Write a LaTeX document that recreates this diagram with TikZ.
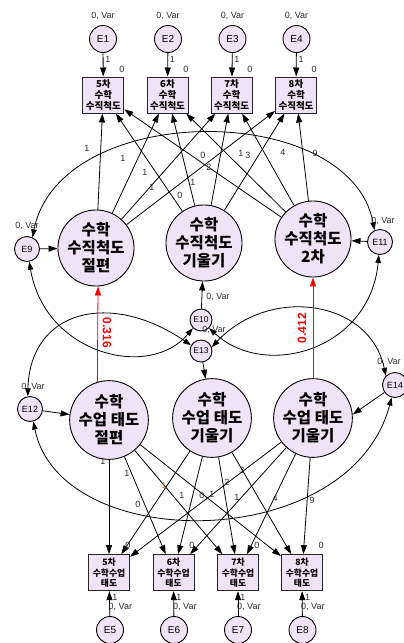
\documentclass[tikz,border=0pt]{standalone}
\usepackage{fontspec}
\setmainfont{Liberation Sans}
\newfontfamily\kr{Noto Sans CJK KR}
\usetikzlibrary{arrows.meta}
\definecolor{lav}{RGB}{238,227,247}
\definecolor{lbl}{RGB}{45,45,45}
\definecolor{org}{RGB}{205,125,45}
\begin{document}
\begin{tikzpicture}[x=1pt,y=-1pt,
  lat/.style={circle,draw,line width=0.9pt,fill=lav,minimum size=75pt,inner sep=0pt,align=center,font=\kr\bfseries\fontsize{15.5}{18}\selectfont},
  obs/.style={rectangle,draw=black!85,line width=1pt,fill=lav,minimum width=41pt,minimum height=36pt,inner sep=0pt,align=center,font=\kr\bfseries\fontsize{9.5}{11}\selectfont},
  err/.style={circle,draw,line width=0.9pt,fill=lav,minimum size=27pt,inner sep=0pt,font=\fontsize{10}{12}\selectfont},
  errm/.style={err,minimum size=25pt,font=\fontsize{9}{11}\selectfont},
  errs/.style={err,minimum size=22pt,font=\fontsize{8.5}{10}\selectfont},
  tip/.style={-{Triangle[length=9pt,width=6pt]}},
  dtip/.style={{Triangle[length=8pt,width=5.5pt]}-{Triangle[length=8pt,width=5.5pt]}},
  ln/.style={line width=0.8pt},
  lab/.style={font=\fontsize{9}{10}\selectfont,text=lbl,inner sep=0.5pt},
  var/.style={font=\fontsize{9}{10}\selectfont,text=lbl,inner sep=0.5pt},
  rlab/.style={text=red,font=\bfseries\fontsize{12}{12}\selectfont,inner sep=0pt},
]
\useasboundingbox (0,0) rectangle (404,643);
\fill[white] (0,0) rectangle (404,643);

% top error terms and indicators
\node[err] (E1) at (103,39) {E1};
\node[err] (E2) at (168,39) {E2};
\node[err] (E3) at (232.5,39) {E3};
\node[err] (E4) at (296.5,39) {E4};
\node[obs] (T5) at (103.3,95) {5차\\수학\\수직척도};
\node[obs] (T6) at (167.5,95) {6차\\수학\\수직척도};
\node[obs] (T7) at (231.7,95) {7차\\수학\\수직척도};
\node[obs] (T8) at (296,95) {8차\\수학\\수직척도};

% latent factors
\node[lat] (C1) at (96,248) {수학\\수직척도\\절편};
\node[lat] (C2) at (204,243) {수학\\수직척도\\기울기};
\node[lat] (C3) at (313,239) {수학\\수직척도\\2차};
\node[lat] (C4) at (109,420) {수학\\수업 태도\\절편};
\node[lat] (C5) at (212,418) {수학\\수업 태도\\기울기};
\node[lat] (C6) at (313,418) {수학\\수업 태도\\기울기};

% disturbances
\node[errm] (E9) at (27,249) {E9};
\node[errm] (E11) at (380,242) {E11};
\node[errs] (E10) at (201,320) {E10};
\node[errs] (E13) at (201,351) {E13};
\node[errm] (E12) at (30,409) {E12};
\node[errm] (E14) at (395,385) {E14};

% bottom indicators and errors
\node[obs,font=\kr\bfseries\fontsize{8.8}{10.5}\selectfont] (B5) at (109,572.7) {5차\\수학수업\\태도};
\node[obs,font=\kr\bfseries\fontsize{8.8}{10.5}\selectfont] (B6) at (173.5,572.7) {6차\\수학수업\\태도};
\node[obs,font=\kr\bfseries\fontsize{8.8}{10.5}\selectfont] (B7) at (238,572.7) {7차\\수학수업\\태도};
\node[obs,font=\kr\bfseries\fontsize{8.8}{10.5}\selectfont] (B8) at (302,572.7) {8차\\수학수업\\태도};
\node[err] (E5) at (110,630) {E5};
\node[err] (E6) at (174,630) {E6};
\node[err] (E7) at (238,630) {E7};
\node[err] (E8) at (302.5,630) {E8};

% error -> indicator
\foreach \e/\b in {E1/T5,E2/T6,E3/T7,E4/T8,E5/B5,E6/B6,E7/B7,E8/B8}
  \draw[ln,tip] (\e) -- (\b);

% loadings
\foreach \c in {C1,C2,C3}
  \foreach \b in {T5,T6,T7,T8}
    \draw[ln,tip] (\c) -- (\b);
\foreach \c in {C4,C5,C6}
  \foreach \b in {B5,B6,B7,B8}
    \draw[ln,tip] (\c) -- (\b);

% disturbance -> factor
\draw[ln,tip] (E9) -- (C1);
\draw[ln,tip] (E11) -- (C3);
\draw[ln,tip] (E10) -- (C2);
\draw[ln,tip] (E13) -- (C5);
\draw[ln,tip] (E12) -- (C4);
\draw[ln,tip] (E14) -- (C6.5);

% covariances
\draw[ln,dtip] (E9.65) .. controls (60,100) and (350,100) .. (E11.115);
\draw[ln,dtip] (E9.-80) .. controls (45,355) and (150,380) .. (E10.-135);
\draw[ln,dtip] (E11.-95) .. controls (370,350) and (265,380) .. (E10.-45);
\draw[ln,dtip] (E12.100) .. controls (30,310) and (110,290) .. (E13.150);
\draw[ln,dtip] (E14.135) .. controls (370,300) and (270,285) .. (E13.20);
\draw[ln,dtip] (E12.-75) .. controls (60,555) and (350,555) .. (E14.-105);

% cross-lagged paths
\draw[red,line width=0.8pt,tip] (C4.107) -- (C1.-87);
\draw[red,line width=0.8pt,tip] (C6.north) -- (C3.south);
\node[rlab,rotate=-90] (r1) at (107,333) {0.316};
\node[rlab,rotate=90] (r2) at (302,328) {0.412};

% variance labels
\foreach \x in {103,168,232.5,296.5} \node[var] at (\x,16) {0, Var};
\foreach \x in {108,172.5,236.5,300.5} \node[var,anchor=west] at (\x,607) {0, Var};
\node[var] at (27,226) {0, Var};
\node[var] at (383,221) {0, Var};
\node[var] at (218,297) {0, Var};
\node[var] at (214,330) {0, Var};
\node[var] at (33,387) {0, Var};
\node[var] at (389,362) {0, Var};

% fixed path labels
\foreach \x in {108,172.5,237,301} \node[lab] at (\x,59) {1};
\foreach \x in {122,186,250,314} \node[lab] at (\x,69) {0};
\foreach \x in {115,179,243,307.5} \node[lab] at (\x,597) {1};
\foreach \x in {128,192,257,321} \node[lab] at (\x,545) {0};

% top loadings
\node[lab] at (87,148) {1};
\node[lab] at (123,158) {1};
\node[lab] at (145,172) {1};
\node[lab] at (152,187) {1};
\node[lab] at (180,195) {0};
\node[lab] at (193,182) {1};
\node[lab] at (209,167) {2};
\node[lab] at (248,155) {3};
\node[lab] at (203,155) {0};
\node[lab] at (241,153) {1};
\node[lab] at (283,152) {4};
\node[lab] at (315,153) {9};

% bottom loadings
\node[lab] at (103,461) {1};
\node[lab] at (127,473) {1};
\node[lab] at (182,495) {1};
\node[lab] at (212,494) {1};
\node[lab] at (138,504) {0};
\node[lab,text=org] at (164,485) {1};
\node[lab] at (227,482) {2};
\node[lab] at (242,470) {3};
\node[lab] at (202,495) {0};
\node[lab] at (237,497) {1};
\node[lab] at (275,498) {4};
\node[lab] at (312,500) {9};
\end{tikzpicture}
\end{document}
